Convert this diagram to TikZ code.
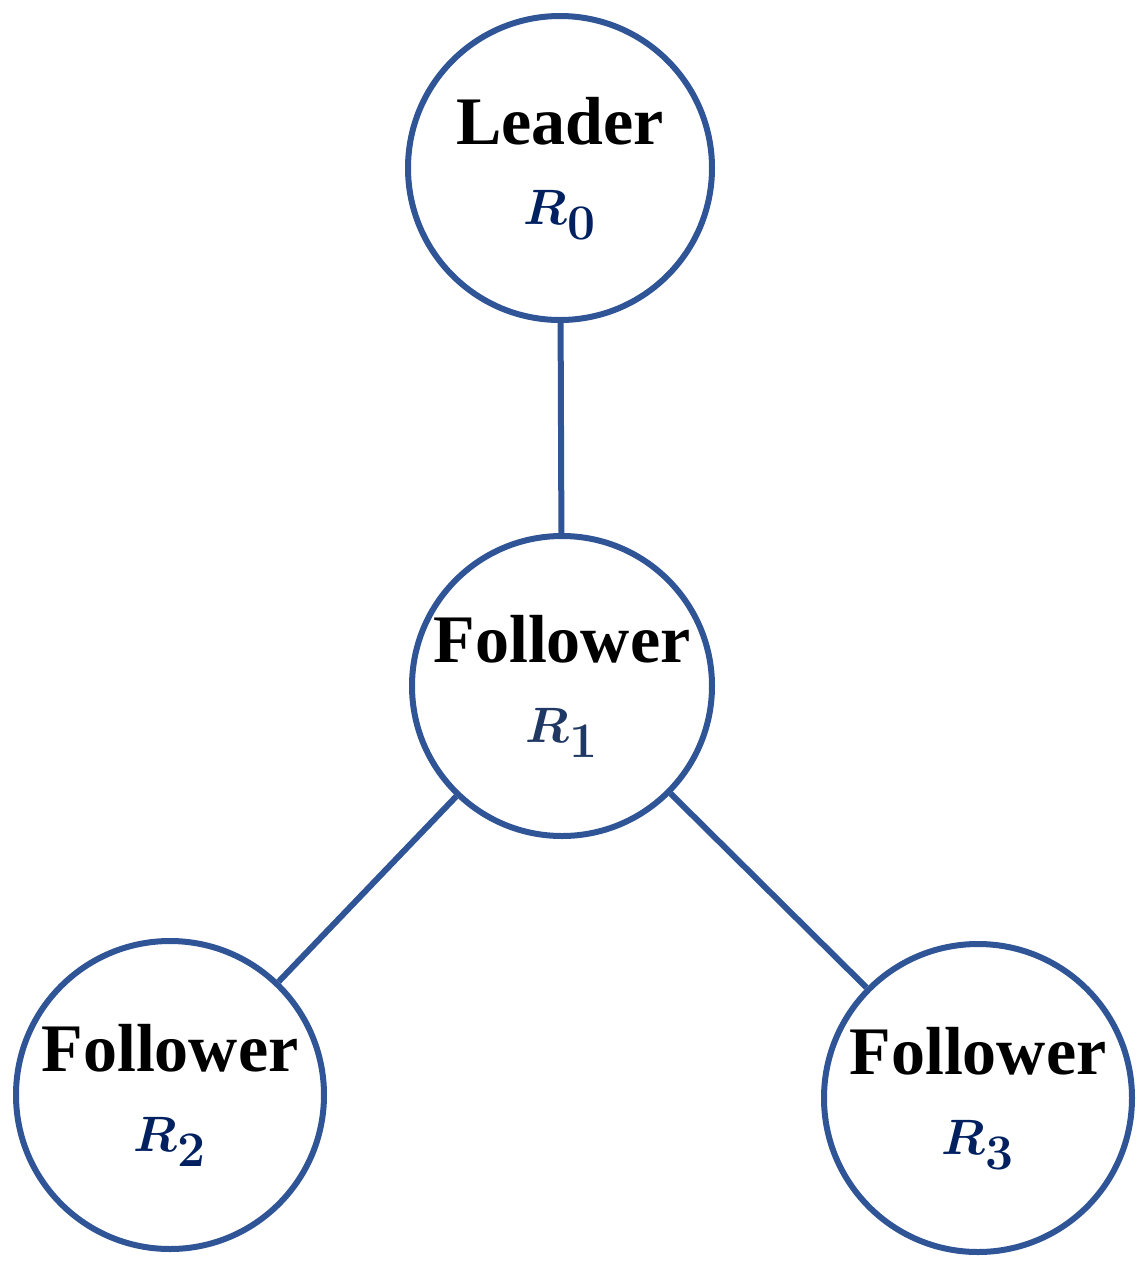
\documentclass[tikz,border=0pt]{standalone}
\usepackage{fontspec}
\usepackage{amsmath,bm}
\setmainfont{Liberation Serif}
\definecolor{edge}{RGB}{47,85,151}
\definecolor{navy}{RGB}{0,32,96}
\definecolor{slate}{RGB}{31,56,100}
\newcommand{\Rlab}[2]{\textcolor{#1}{\fontsize{36}{40}\selectfont$\bm{R}_{\bm{#2}}$}}
\begin{document}
\begin{tikzpicture}[x=0.5pt,y=-0.5pt,
  agent/.style={circle,draw=edge,line width=3pt,minimum size=152pt,inner sep=0pt,align=center,
    font=\fontsize{34}{44}\selectfont\bfseries},
  link/.style={draw=edge,line width=3pt}]
\useasboundingbox (0,0) rectangle (1145,1270);
\node[agent] (r0) at (560,168) {Leader\\[-4pt]\Rlab{navy}{0}};
\node[agent,minimum size=150pt] (r1) at (562,686) {Follower\\[-4pt]\Rlab{slate}{1}};
\node[agent,minimum size=154pt] (r2) at (170,1095) {Follower\\[-4pt]\Rlab{navy}{2}};
\node[agent,minimum size=154pt] (r3) at (978,1098) {Follower\\[-4pt]\Rlab{navy}{3}};
\draw[link] (r0) -- (r1);
\draw[link] (r1) -- (r2);
\draw[link] (r1) -- (r3);
\end{tikzpicture}
\end{document}
